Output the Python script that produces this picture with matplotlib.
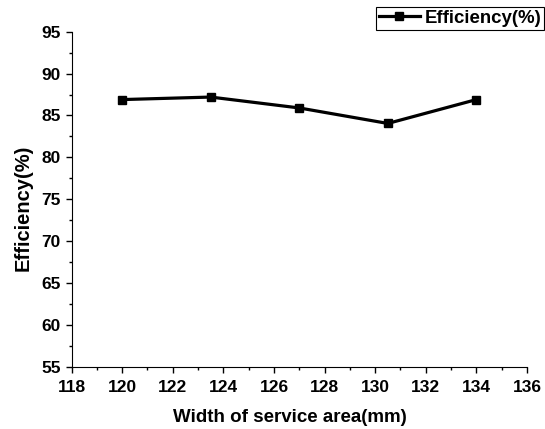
import numpy as np
import matplotlib.pyplot as plt
from matplotlib.ticker import MultipleLocator

# data
width_mm = [120, 123.5, 127, 130.5, 134]
efficiency = [86.9, 87.2, 85.9, 84.05, 86.9]

plt.rcParams['font.family'] = ['Liberation Sans', 'DejaVu Sans']
plt.rcParams['font.weight'] = 'bold'

fig = plt.figure(figsize=(5.45, 4.29), dpi=100)
ax = fig.add_axes([0.1312, 0.1452, 0.967 - 0.1312, 0.926 - 0.1452])

ax.plot(width_mm, efficiency, '-s', color='black', linewidth=2.3, markersize=6,
        label='Efficiency(%)')

ax.set_xlim(118, 136)
ax.set_ylim(55, 95)
ax.xaxis.set_major_locator(MultipleLocator(2))
ax.xaxis.set_minor_locator(MultipleLocator(1))
ax.yaxis.set_major_locator(MultipleLocator(5))
ax.yaxis.set_minor_locator(MultipleLocator(2.5))

ax.spines['top'].set_visible(False)
ax.spines['right'].set_visible(False)
ax.tick_params(which='major', direction='out', length=4.3, width=1, labelsize=12.5)
ax.tick_params(which='minor', direction='out', length=2.2, width=1)
ax.tick_params(axis='x', which='major', pad=5)
ax.tick_params(axis='y', which='major', pad=3.4)
for lbl in ax.get_xticklabels() + ax.get_yticklabels():
    lbl.set_fontweight('bold')

ax.set_xlabel('Width of service area(mm)', fontsize=13.5, fontweight='bold')
ax.xaxis.set_label_coords(0.48, -0.125)
ax.set_ylabel('Efficiency(%)', fontsize=14.5, fontweight='bold')
ax.yaxis.set_label_coords(-0.085, 0.474)

leg = fig.legend(loc='upper right', bbox_to_anchor=(544 / 545, 1 - 7 / 429),
                 fontsize=13.4, frameon=True, fancybox=False, framealpha=1,
                 edgecolor='black', borderpad=0.15, handlelength=2.2,
                 handletextpad=0.25, borderaxespad=0)
leg.get_frame().set_linewidth(0.8)
for t in leg.get_texts():
    t.set_fontweight('bold')

plt.savefig('out.png', dpi=100)
